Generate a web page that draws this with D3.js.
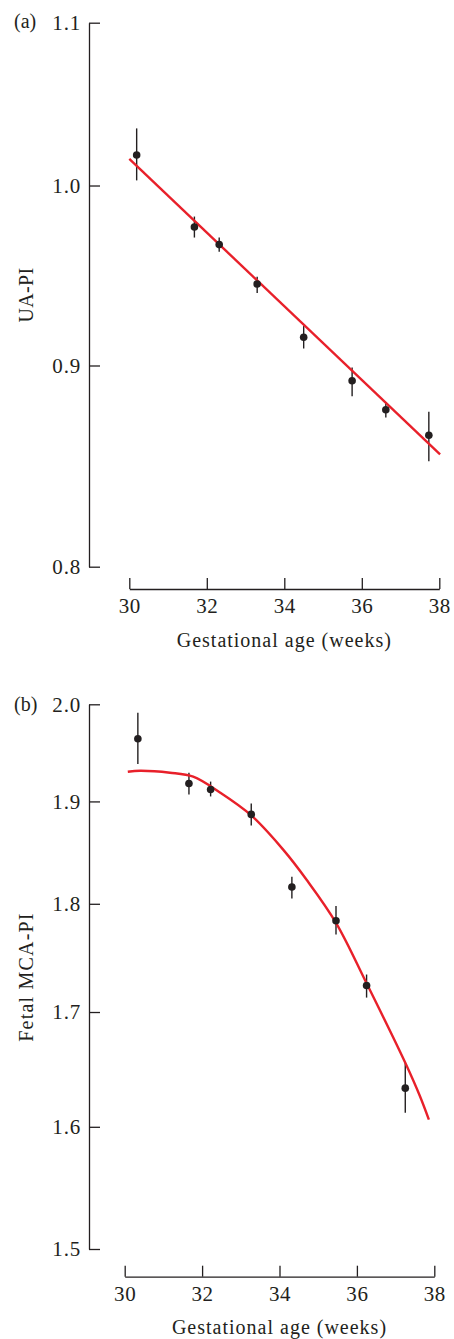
<!DOCTYPE html>
<html>
<head>
<meta charset="utf-8">
<script src="https://cdn.jsdelivr.net/npm/d3@7"></script>
<style>
  body { margin: 0; background: #fff; }
  svg text { font-family: "Liberation Serif", "Times New Roman", serif; fill: #231f20; }
  .axis path, .axis line { stroke: #231f20; stroke-width: 1.3; }
</style>
</head>
<body>
<svg id="chart" width="454" height="1339"></svg>
<script>
// shared x ticks
var weekTicks = [30, 32, 34, 36, 38];

// panel (a) - umbilical artery PI
var gaA = [30.19, 31.68, 32.32, 33.30, 34.50, 35.75, 36.62, 37.73];
var uaMean = [1.018, 0.976, 0.966, 0.944, 0.915, 0.892, 0.877, 0.864];
var uaLow = [1.003, 0.970, 0.962, 0.939, 0.909, 0.884, 0.873, 0.851];
var uaHigh = [1.034, 0.982, 0.970, 0.948, 0.921, 0.899, 0.881, 0.876];
var uaFitX = [30.0, 38.02];
var uaFitY = [1.0157, 0.8544];
var uaTicks = [0.8, 0.9, 1.0, 1.1];

// panel (b) - fetal middle cerebral artery PI
var gaB = [30.34, 31.66, 32.22, 33.27, 34.32, 35.46, 36.25, 37.25];
var mcaMean = [1.964, 1.918, 1.912, 1.887, 1.816, 1.784, 1.724, 1.633];
var mcaLow = [1.938, 1.907, 1.905, 1.876, 1.805, 1.771, 1.713, 1.612];
var mcaHigh = [1.991, 1.929, 1.920, 1.898, 1.826, 1.798, 1.734, 1.655];
var mcaFitX = [30.08, 30.40, 31.17, 31.77, 32.46, 33.27, 34.10, 34.70, 35.46, 36.25, 37.25, 37.63, 37.86];
var mcaFitY = [1.930, 1.931, 1.929, 1.925, 1.909, 1.886, 1.852, 1.823, 1.782, 1.726, 1.655, 1.626, 1.606];
var mcaTicks = [1.5, 1.6, 1.7, 1.8, 1.9, 2.0];

var svg = d3.select("#chart");

function drawPanel(p) {
  var g = svg.append("g");

  // log y scale, linear x scale
  var x = d3.scaleLinear().domain([30, 38]).range(p.xRange);
  var y = d3.scaleLog().domain(p.yDomain).range(p.yRange);

  // y axis, ticks pointing right, labels left
  g.append("g")
    .attr("class", "axis")
    .attr("transform", "translate(" + p.yAxisX + ",0)")
    .call(d3.axisLeft(y).tickValues(p.yTicks).tickFormat(d3.format(".1f"))
      .tickSizeInner(-11).tickSizeOuter(0).tickPadding(8))
    .call(a => a.selectAll("text").attr("font-size", 21).attr("letter-spacing", 0.8));

  // x axis, ticks pointing up
  g.append("g")
    .attr("class", "axis")
    .attr("transform", "translate(0," + p.xAxisY + ")")
    .call(d3.axisBottom(x).tickValues(weekTicks).tickFormat(d3.format("d"))
      .tickSizeInner(-11).tickSizeOuter(0).tickPadding(9))
    .call(a => a.selectAll("text").attr("font-size", 21).attr("letter-spacing", 0.6));

  // drop d3 default font attrs on axis groups
  g.selectAll(".axis").attr("font-family", null).attr("font-size", null);

  // error bars
  g.selectAll(".err")
    .data(p.xs)
    .join("line")
    .attr("class", "err")
    .attr("x1", d => x(d)).attr("x2", d => x(d))
    .attr("y1", (d, i) => y(p.low[i]))
    .attr("y2", (d, i) => y(p.high[i]))
    .attr("stroke", "#231f20")
    .attr("stroke-width", 1.4);

  // fitted curve
  var fit = p.fitX.map((d, i) => [d, p.fitY[i]]);
  g.append("path")
    .datum(fit)
    .attr("fill", "none")
    .attr("stroke", "#e8202a")
    .attr("stroke-width", 2.4)
    .attr("d", d3.line().x(d => x(d[0])).y(d => y(d[1])).curve(d3.curveCatmullRom));

  // mean points
  g.selectAll(".pt")
    .data(p.xs)
    .join("circle")
    .attr("class", "pt")
    .attr("cx", d => x(d))
    .attr("cy", (d, i) => y(p.mean[i]))
    .attr("r", 3.8)
    .attr("fill", "#231f20");

  // panel letter
  g.append("text")
    .attr("x", 14).attr("y", p.letterY)
    .attr("dy", "0.32em")
    .attr("font-size", 20)
    .text(p.letter);

  // y title
  g.append("text")
    .attr("transform", "translate(33," + p.yTitleY + ") rotate(-90)")
    .attr("text-anchor", "middle")
    .attr("font-size", 20)
    .attr("letter-spacing", p.yTitleSpacing)
    .text(p.yTitle);

  // x title
  g.append("text")
    .attr("x", (p.xRange[0] + p.xRange[1]) / 2)
    .attr("y", p.xTitleY)
    .attr("text-anchor", "middle")
    .attr("font-size", 20)
    .attr("letter-spacing", 1)
    .text("Gestational age (weeks)");
}

drawPanel({
  letter: "(a)", letterY: 22,
  xs: gaA, mean: uaMean, low: uaLow, high: uaHigh,
  fitX: uaFitX, fitY: uaFitY, yTicks: uaTicks,
  yDomain: [0.8, 1.1], yRange: [566.7, 22.7],
  xRange: [129.3, 439.3], yAxisX: 89, xAxisY: 589,
  yTitle: "UA-PI", yTitleY: 295, yTitleSpacing: 0.3, xTitleY: 646.5
});

drawPanel({
  letter: "(b)", letterY: 705,
  xs: gaB, mean: mcaMean, low: mcaLow, high: mcaHigh,
  fitX: mcaFitX, fitY: mcaFitY, yTicks: mcaTicks,
  yDomain: [1.5, 2.0], yRange: [1249, 704.3],
  xRange: [124.7, 434.3], yAxisX: 89, xAxisY: 1276.7,
  yTitle: "Fetal MCA-PI", yTitleY: 977, yTitleSpacing: 1.2, xTitleY: 1334
});
</script>
</body>
</html>
